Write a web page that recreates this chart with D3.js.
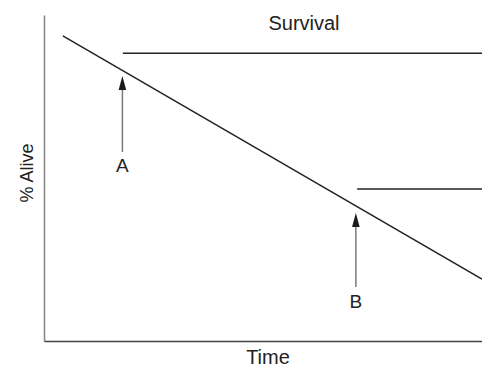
<!DOCTYPE html>
<html><head><meta charset="utf-8">
<script src="https://cdn.jsdelivr.net/npm/d3@7"></script>
<style>html,body{margin:0;padding:0;background:#fff;}svg{display:block;}</style>
</head><body>
<script>
// Data (time units 0-100, % alive 0-100)
const survivalLine = [[4.3, 93.6], [100, 19.0]];
const plateauA = [[18.0, 88.3], [100, 88.3]];
const plateauB = [[71.5, 46.6], [100, 46.6]];
const arrowNames = ["A", "B"];
const arrowX = [17.9, 71.2];
const arrowTip = [81.3, 39.3];
const arrowTail = [58.0, 16.6];
const labelY = [51.8, 10.1];
const titleText = "Survival";
const xLabel = "Time";
const yLabel = "% Alive";

const W = 482, H = 368;
const svg = d3.select("body").append("svg").attr("width", W).attr("height", H);
const x = d3.scaleLinear().domain([0, 100]).range([44, 482]);
const y = d3.scaleLinear().domain([0, 100]).range([341, 15]);
const font = "Liberation Sans, Arial, sans-serif";

// axes
svg.append("g").attr("transform", `translate(${x(0)},0)`)
  .call(d3.axisLeft(y).ticks(0).tickSize(0))
  .call(g => g.select(".domain").attr("stroke", "#8a8a8a").attr("stroke-width", 1.6));
svg.append("g").attr("transform", `translate(0,${y(0)})`)
  .call(d3.axisBottom(x).ticks(0).tickSize(0))
  .call(g => g.select(".domain").attr("stroke", "#444").attr("stroke-width", 1.6));

const line = d3.line().x(d => x(d[0])).y(d => y(d[1]));
[survivalLine, plateauA, plateauB].forEach(d => {
  svg.append("path").attr("d", line(d)).attr("fill", "none")
    .attr("stroke", "#222").attr("stroke-width", 1.5);
});

// arrows
arrowNames.forEach((n, i) => {
  const ax = x(arrowX[i]), tip = y(arrowTip[i]), tail = y(arrowTail[i]);
  svg.append("line").attr("x1", ax).attr("x2", ax).attr("y1", tip + 10).attr("y2", tail)
    .attr("stroke", "#7a7a7a").attr("stroke-width", 1.5);
  svg.append("path").attr("d", `M${ax},${tip} L${ax - 3.8},${tip + 14} L${ax + 3.8},${tip + 14} Z`)
    .attr("fill", "#1a1a1a");
  svg.append("text").attr("x", ax).attr("y", y(labelY[i])).attr("text-anchor", "middle")
    .attr("font-family", font).attr("font-size", 19).attr("fill", "#222").text(n);
});

svg.append("text").attr("x", 304).attr("y", 30).attr("text-anchor", "middle")
  .attr("font-family", font).attr("font-size", 20).attr("fill", "#222").text(titleText);
svg.append("text").attr("x", 268).attr("y", 364).attr("text-anchor", "middle")
  .attr("font-family", font).attr("font-size", 20).attr("fill", "#222").text(xLabel);
svg.append("text").attr("transform", "translate(33,173) rotate(-90)").attr("text-anchor", "middle")
  .attr("font-family", font).attr("font-size", 18).attr("fill", "#222").text(yLabel);
</script>
</body></html>
